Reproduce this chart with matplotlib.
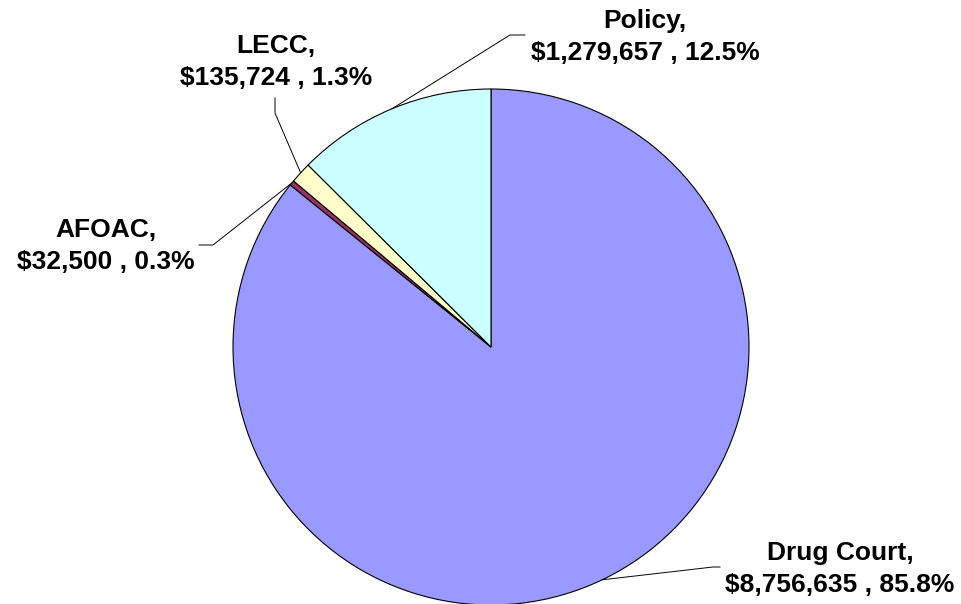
import numpy as np
import matplotlib.pyplot as plt

names = ['Drug Court', 'AFOAC', 'LECC', 'Policy']
amounts = [8756635, 32500, 135724, 1279657]
colors = ['#9999FF', '#993366', '#FFFFCC', '#CCFFFF']

# label layout in pixel space (x, y from top): text centre, elbow points
text_pos = [(840, 569), (106, 246), (276, 62), (645, 37)]
elbows = [[(720, 567), (713, 567)],
          [(199, 245), (213, 245)],
          [(275, 98), (275, 113)],
          [(525, 35), (510, 35)]]

W, H = 961, 604
fig = plt.figure(figsize=(W / 100, H / 100), dpi=100)
ax = fig.add_axes([0, 0, 1, 1])

cx, cy, r = 491, H - 347, 258
wedges, _ = ax.pie(amounts, colors=colors, startangle=90, counterclock=False,
                   center=(cx, cy), radius=r,
                   wedgeprops=dict(edgecolor='black', linewidth=0.8))
ax.set_xlim(0, W)
ax.set_ylim(0, H)
ax.set_aspect('equal')
ax.axis('off')

total = sum(amounts)
for w, name, amt, tp, elb in zip(wedges, names, amounts, text_pos, elbows):
    mid = np.deg2rad((w.theta1 + w.theta2) / 2)
    ex, ey = cx + r * np.cos(mid), cy + r * np.sin(mid)
    xs = [p[0] for p in elb] + [ex]
    ys = [H - p[1] for p in elb] + [ey]
    ax.plot(xs, ys, color='black', linewidth=0.7)
    label = f'{name},\n${amt:,} , {amt / total * 100:.1f}%'
    ax.text(tp[0], H - tp[1], label, ha='center', va='center',
            fontsize=19, fontweight='bold', family='Liberation Sans',
            linespacing=1.4)

plt.savefig('out.png', dpi=100)
